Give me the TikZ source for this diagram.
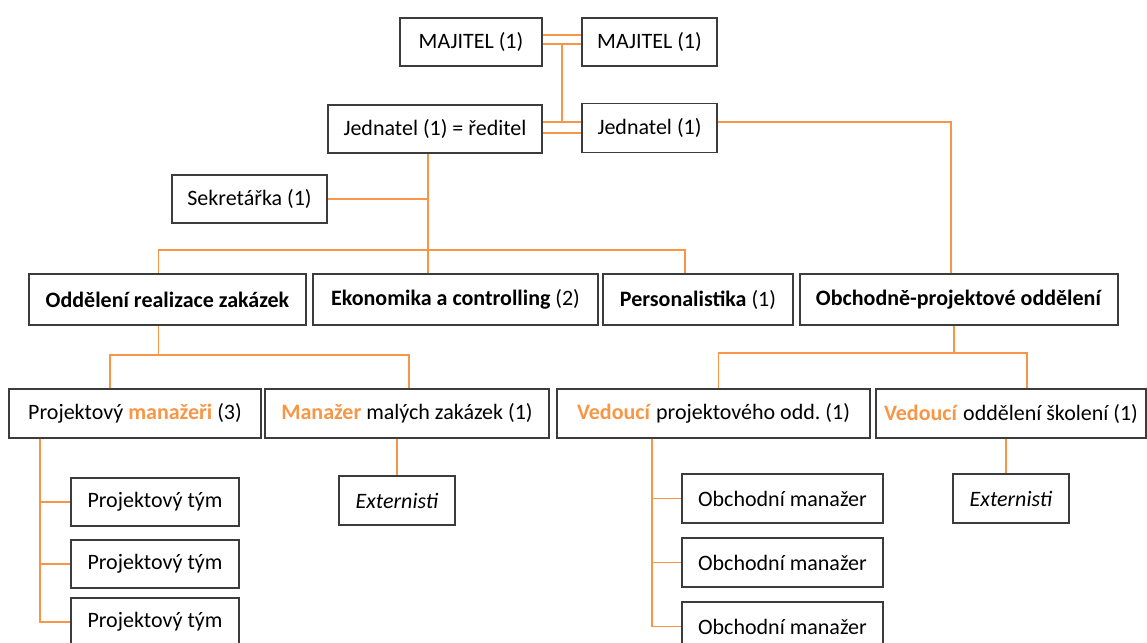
\documentclass[tikz,border=0pt]{standalone}
\usepackage{fontspec}
\setmainfont{Carlito}
\definecolor{linkc}{RGB}{247,150,70}
\definecolor{framec}{RGB}{60,60,60}
\def\px{0.75pt}
\def\hl#1{\textcolor{linkc}{\textbf{#1}}}
\tikzset{
  unit/.style={draw=framec, line width=1.1pt, inner sep=0pt, align=center,
    font=\fontsize{16.5}{19}\selectfont},
  link/.style={draw=linkc, line width=1pt}
}

\begin{document}
\begin{tikzpicture} [x=\px, y=-\px]
\useasboundingbox (0,0) rectangle (1147,643);
\node [unit, minimum width=142*\px, minimum height=48*\px] (maj1) at (471,42) {MAJITEL (1)};
\node [unit, minimum width=135*\px, minimum height=48*\px] (maj2) at (649.5,42) {MAJITEL (1)};
\node [unit, minimum width=214*\px, minimum height=48*\px] (jed1) at (435,129) {Jednatel (1) = ředitel};
\node [unit, minimum width=135*\px, minimum height=49*\px] (jed2) at (649.5,128) {Jednatel (1)};
\node [unit, minimum width=155*\px, minimum height=48*\px] (sek) at (249.5,199) {Sekretářka (1)};
\node [unit, minimum width=277*\px, minimum height=51*\px] (odd) at (167.5,299.5) {\textbf{Oddělení realizace zakázek}};
\node [unit, minimum width=285*\px, minimum height=51*\px] (eko) at (455.5,299.5) {\textbf{Ekonomika a controlling} (2)};
\node [unit, minimum width=190*\px, minimum height=51*\px] (per) at (698,299.5) {\textbf{Personalistika} (1)};
\node [unit, minimum width=318*\px, minimum height=51*\px] (obch) at (959,299.5) {\textbf{Obchodně-projektové oddělení}};
\node [unit, minimum width=252*\px, minimum height=49*\px] (pm) at (135,413.5) {Projektový \hl{manažeři} (3)};
\node [unit, minimum width=284*\px, minimum height=49*\px] (mmz) at (407,413.5) {\hl{Manažer} malých zakázek (1)};
\node [unit, minimum width=313*\px, minimum height=49*\px] (vpo) at (713.5,413.5) {\hl{Vedoucí} projektového odd.\ (1)};
\node [unit, minimum width=270*\px, minimum height=49*\px] (vos) at (1011,413.5) {\hl{Vedoucí} oddělení školení (1)};
\node [unit, minimum width=168*\px, minimum height=48*\px] (pt1) at (155,502) {Projektový tým};
\node [unit, minimum width=168*\px, minimum height=48*\px] (pt2) at (155,564) {Projektový tým};
\node [unit, minimum width=168*\px, minimum height=48*\px] (pt3) at (155,622) {Projektový tým};
\node [unit, minimum width=116*\px, minimum height=49*\px] (ext1) at (397,500.5) {\textit{Externisti}};
\node [unit, minimum width=201*\px, minimum height=49*\px] (om1) at (782.5,498.5) {Obchodní manažer};
\node [unit, minimum width=201*\px, minimum height=49*\px] (om2) at (782.5,562.5) {Obchodní manažer};
\node [unit, minimum width=201*\px, minimum height=49*\px] (om3) at (782.5,626.5) {Obchodní manažer};
\node [unit, minimum width=116*\px, minimum height=49*\px] (ext2) at (1011,498.5) {\textit{Externisti}};
\coordinate (tie) at (562,0);
\coordinate (trunk) at (428,0);
\coordinate (bus1) at (0,250);
\coordinate (bus2) at (0,355);
\coordinate (bus3) at (0,353);
\coordinate (pmrail) at (40,0);
\coordinate (vporail) at (652,0);
\draw [link] ([yshift=7*\px]maj1.east) -- ([yshift=7*\px]maj1.east -| maj2.west);
\draw [link] ([yshift=-2*\px]maj1.east) -- ([yshift=-2*\px]maj1.east -| maj2.west);
\draw [link] ([yshift=7*\px]jed1.east) -- ([yshift=7*\px]jed1.east -| jed2.west);
\draw [link] ([yshift=-4*\px]jed1.east) -- ([yshift=-4*\px]jed1.east -| jed2.west);
\draw [link] ([yshift=-2*\px]maj1.east -| tie) -- ([yshift=7*\px]jed1.east -| tie);
\draw [link] ([yshift=6*\px]jed2.east) -| ([xshift=-8*\px]obch.north);
\draw [link] (jed1.south -| trunk) -- (eko.north -| trunk);
\draw [link] (sek.east) -- (sek.east -| trunk);
\draw [link] ([xshift=-9*\px]odd.north) |- ([xshift=-13*\px]per.north |- bus1) -- ([xshift=-13*\px]per.north);
\draw [link] ([xshift=-9*\px]odd.south) -- ([xshift=-9*\px]odd.south |- bus2);
\draw [link] ([xshift=-25*\px]pm.north) |- ([xshift=2*\px]mmz.north |- bus2) -- ([xshift=2*\px]mmz.north);
\draw [link] ([xshift=-5*\px]obch.south) -- ([xshift=-5*\px]obch.south |- bus3);
\draw [link] ([xshift=5*\px]vpo.north) |- ([xshift=16*\px]vos.north |- bus3) -- ([xshift=16*\px]vos.north);
\foreach \t in {pt1,pt2,pt3}
  \draw [link] (pm.south -| pmrail) |- (\t.west);
\foreach \m in {om1,om2,om3}
  \draw [link] (vpo.south -| vporail) |- (\m.west);
\draw [link] (ext1.north |- mmz.south) -- (ext1.north);
\draw [link] ([xshift=-5*\px]ext2.north |- vos.south) -- ([xshift=-5*\px]ext2.north);
\end{tikzpicture}
\end{document}
